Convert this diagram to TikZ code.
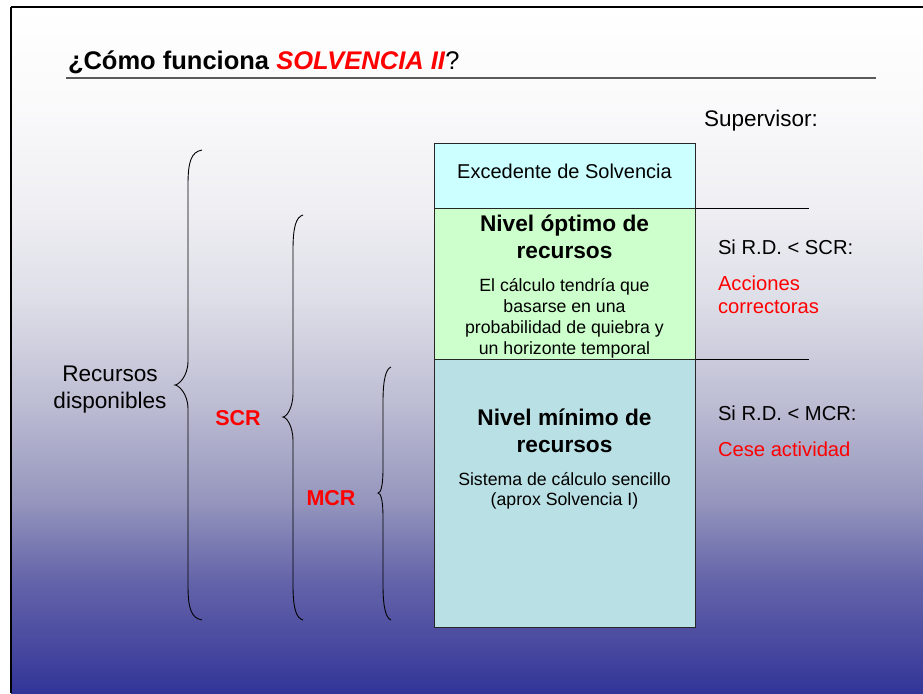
\documentclass[tikz,border=0pt]{standalone}
\usepackage{fontspec}
\setmainfont{Liberation Sans}
\definecolor{bgA}{RGB}{50,53,152}
\definecolor{bgB}{RGB}{75,75,160}
\definecolor{bgC}{RGB}{100,100,170}
\definecolor{bgD}{RGB}{150,150,190}
\definecolor{bgE}{RGB}{190,190,212}
\definecolor{bgF}{RGB}{222,222,232}
\definecolor{bgG}{RGB}{240,240,244}
\definecolor{bgH}{RGB}{250,250,251}
\definecolor{bgI}{RGB}{255,255,255}
\definecolor{boxcyan}{RGB}{204,255,255}
\definecolor{boxgreen}{RGB}{204,255,204}
\definecolor{boxblue}{RGB}{185,224,228}
\definecolor{rulegray}{RGB}{90,90,90}
\definecolor{hired}{RGB}{255,0,0}
\pgfdeclareverticalshading{bgshade}{100bp}{color(0bp)=(bgA); color(25bp)=(bgA); color(28.86bp)=(bgB); color(33.24bp)=(bgC); color(39.07bp)=(bgD); color(46.36bp)=(bgE); color(53.64bp)=(bgF); color(60.93bp)=(bgG); color(68.22bp)=(bgH); color(75bp)=(bgI); color(100bp)=(bgI)}
\newcommand\mlc[1]{\begin{tabular}[t]{@{}c@{}}#1\end{tabular}}
\newcommand\mll[1]{\begin{tabular}[t]{@{}l@{}}#1\end{tabular}}
\newcommand\vbrace[6]{% xe, xl, xt, yt, ym, yb
  \draw[bracel] (#1,#4) .. controls (#2+3,#4+2) and (#2,#4+12) .. (#2,#4+35)
    -- (#2,#5-24) .. controls (#2,#5-8) and (#3+3,#5) .. (#3,#5)
    .. controls (#3+3,#5) and (#2,#5+8) .. (#2,#5+24)
    -- (#2,#6-35) .. controls (#2,#6-12) and (#2+3,#6-2) .. (#1,#6);}
\begin{document}
\begin{tikzpicture}[x=1pt,y=-1pt,
  txt/.style={inner sep=0pt, outer sep=0pt, anchor=base},
  boxnode/.style={draw=black!85, line width=0.8pt, anchor=north west, inner sep=0pt, minimum width=261pt},
  bracel/.style={draw=black, line width=0.9pt},
  sideline/.style={draw=black, line width=0.8pt},
  big/.style={font=\fontsize{22.6}{26.6}\selectfont},
  boxtitle/.style={font=\fontsize{22.7}{27.2}\selectfont\bfseries},
  boxsub/.style={font=\fontsize{17.7}{20.8}\selectfont},
  side/.style={font=\fontsize{20.2}{22.6}\selectfont, anchor=base west},
  tag/.style={font=\fontsize{21.5}{25}\selectfont\bfseries, text=hired}
]
\useasboundingbox (0,0) rectangle (923,693);
\fill[white] (0,0) rectangle (923,693);
\shade[shading=bgshade] (11,7) rectangle (923,693);
\draw[line width=2.2pt] (11,7) -- (923,7);
\draw[line width=1.1pt] (11,7) -- (11,693);

% title
\node[txt, anchor=base west, font=\fontsize{25.5}{30}\selectfont] (title) at (68,70)
  {\textbf{¿Cómo funciona }\textcolor{hired}{\textbf{\textit{SOLVENCIA II}}}?};
\coordinate (ulA) at (66,78);
\coordinate (ulB) at (876,78);
\draw[rulegray, line width=1.4pt] (ulA) -- (ulB);

\node[txt, anchor=base west, font=\fontsize{22.5}{26}\selectfont] (sup) at (704,126) {Supervisor:};

% boxes
\node[boxnode, fill=boxcyan, minimum height=65pt] (exc) at (434,143) {};
\node[boxnode, fill=boxgreen, minimum height=151pt] (opt) at (434,208) {};
\node[boxnode, fill=boxblue, minimum height=268pt] (min) at (434,359) {};

\node[txt, font=\fontsize{20}{24}\selectfont] (excT) at (564.5,178) {Excedente de Solvencia};
\node[txt, boxtitle] (optT) at (564.5,231.7) {\mlc{Nivel óptimo de\\recursos}};
\node[txt, boxsub] (optS) at (564.5,291.7) {\mlc{El cálculo tendría que\\basarse en una\\probabilidad de quiebra y\\un horizonte temporal}};
\node[txt, boxtitle] (minT) at (564.5,425) {\mlc{Nivel mínimo de\\recursos}};
\node[txt, boxsub] (minS) at (564.5,485) {\mlc{Sistema de cálculo sencillo\\(aprox Solvencia I)}};

% side lines
\coordinate (s1) at (809,208);
\coordinate (s2) at (809,359);
\draw[sideline] (opt.north east) -- (s1);
\draw[sideline] (min.north east) -- (s2);

% supervisor texts
\node[txt, side] (scrif) at (718,254) {Si R.D. < SCR:};
\node[txt, side, text=hired] (acc) at (718,290.7) {\mll{Acciones\\correctoras}};
\node[txt, side] (mcrif) at (718,420) {Si R.D. < MCR:};
\node[txt, side, text=hired] (cese) at (718,456) {Cese actividad};

% left labels
\node[txt, big] (rec) at (110,381.7) {\mlc{Recursos\\disponibles}};
\node[txt, tag] (scr) at (238,425) {SCR};
\node[txt, tag] (mcr) at (331,505) {MCR};

% braces
\vbrace{202}{188}{175}{150}{385}{620}
\vbrace{303}{293}{283}{215}{417}{620}
\vbrace{391}{383}{378}{367}{493}{620}
\end{tikzpicture}
\end{document}
